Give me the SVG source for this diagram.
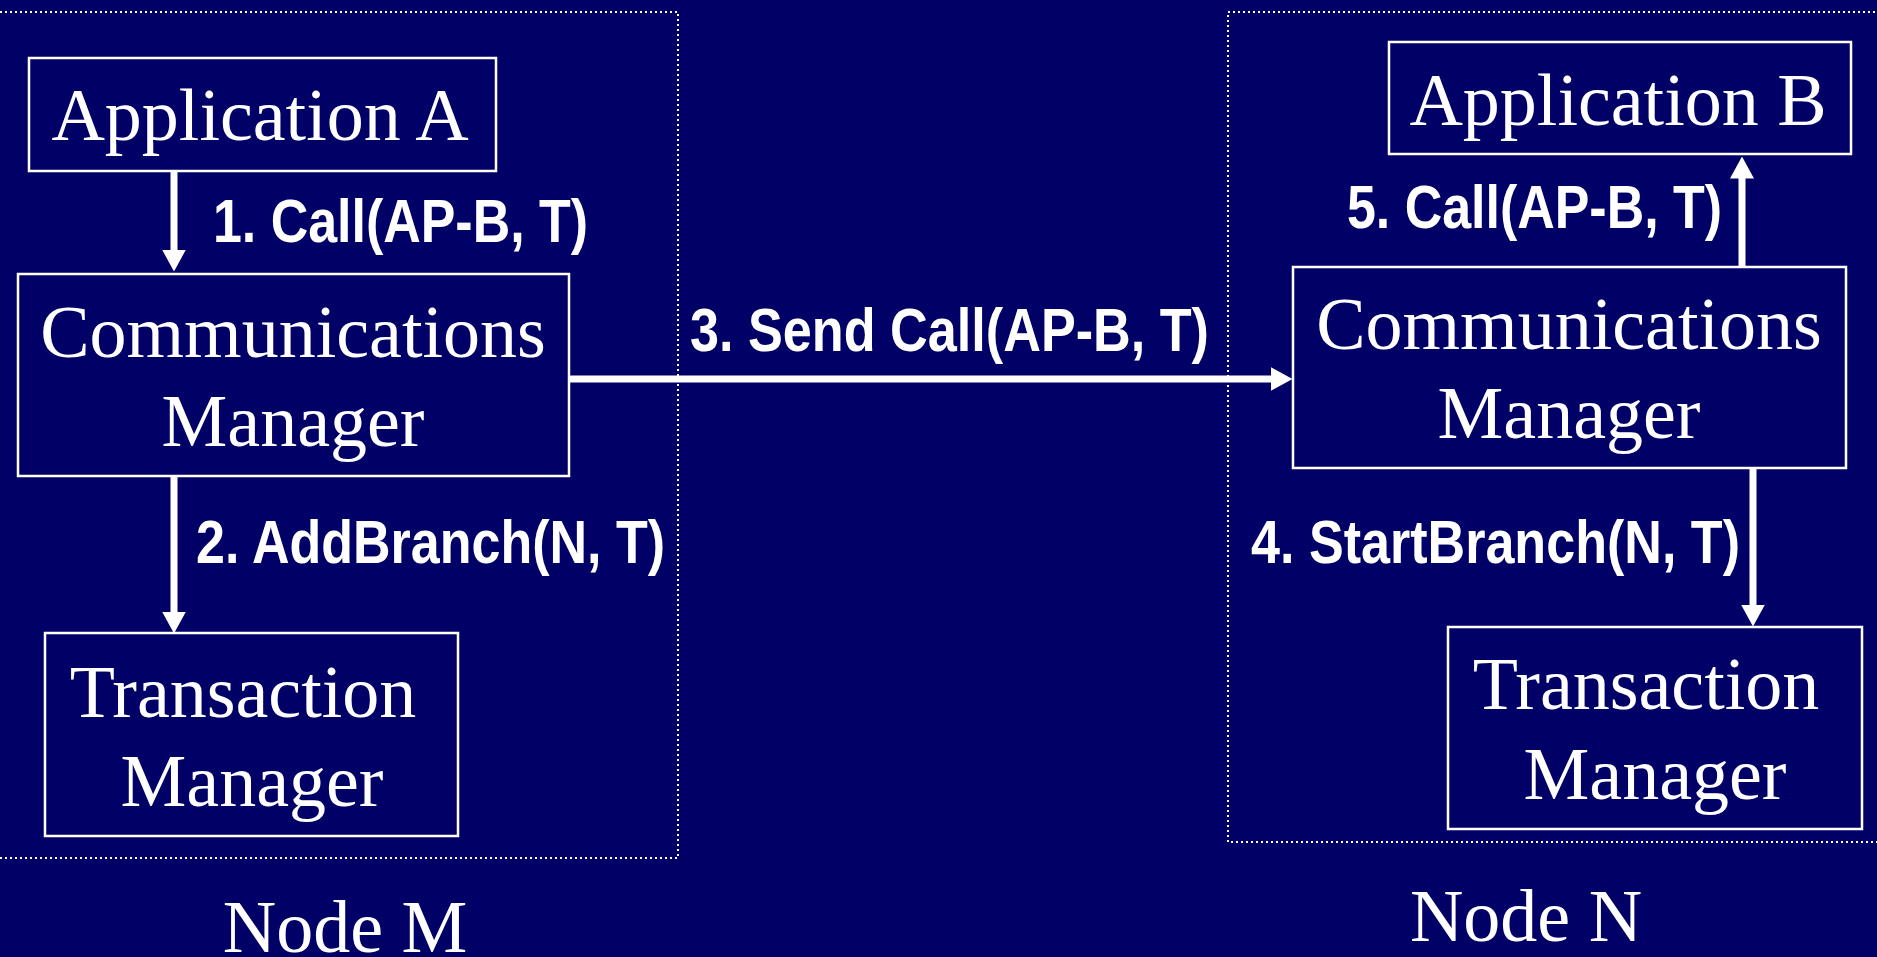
<svg xmlns="http://www.w3.org/2000/svg" width="1877" height="957" viewBox="0 0 1877 957">
  <style>
    .box { fill: none; stroke: #ffffff; stroke-width: 2.5; }
    .frame { fill: none; stroke: #ffffff; stroke-width: 2; stroke-dasharray: 2 3; }
    .name { font-family: "Liberation Serif", "Times New Roman", serif; font-size: 74px; fill: #ffffff; text-anchor: middle; }
    .msg { font-family: "Liberation Sans", Arial, sans-serif; font-weight: bold; font-size: 62px; fill: #ffffff; }
    .link { stroke: #ffffff; stroke-width: 7; fill: none; marker-end: url(#head); }
  </style>
  <defs>
    <marker id="head" markerUnits="userSpaceOnUse" markerWidth="22" markerHeight="24" viewBox="0 0 22 24" refX="0.5" refY="12" orient="auto">
      <path d="M0,0 L22,12 L0,24 z" fill="#ffffff"/>
    </marker>
  </defs>

  <rect width="1877" height="957" fill="#000066"/>

  <!-- node boundaries -->
  <g id="node-m">
    <rect class="frame" x="-10" y="12" width="688" height="846"/>
    <text class="name" x="345" y="952">Node M</text>
  </g>
  <g id="node-n">
    <rect class="frame" x="1228" y="12" width="680" height="830"/>
    <text class="name" x="1526" y="941">Node N</text>
  </g>

  <!-- Node M components -->
  <g id="app-a">
    <rect class="box" x="29" y="58" width="467" height="113"/>
    <text class="name" x="260" y="140">Application A</text>
  </g>
  <g id="comm-m">
    <rect class="box" x="18" y="274" width="551" height="202"/>
    <text class="name" x="293" y="357">Communications</text>
    <text class="name" x="293" y="446">Manager</text>
  </g>
  <g id="tm-m">
    <rect class="box" x="45" y="633" width="413" height="203"/>
    <text class="name" x="243" y="717">Transaction</text>
    <text class="name" x="252" y="806">Manager</text>
  </g>

  <!-- Node N components -->
  <g id="app-b">
    <rect class="box" x="1389" y="42" width="462" height="112"/>
    <text class="name" x="1618" y="125">Application B</text>
  </g>
  <g id="comm-n">
    <rect class="box" x="1293" y="267" width="553" height="201"/>
    <text class="name" x="1569" y="349">Communications</text>
    <text class="name" x="1569" y="438">Manager</text>
  </g>
  <g id="tm-n">
    <rect class="box" x="1448" y="627" width="414" height="202"/>
    <text class="name" x="1646" y="709">Transaction</text>
    <text class="name" x="1655" y="799">Manager</text>
  </g>

  <!-- calls between components -->
  <g id="connectors">
    <line class="link" x1="174" y1="171" x2="174" y2="250"/>
    <text class="msg" x="213" y="242" textLength="375" lengthAdjust="spacingAndGlyphs">1. Call(AP-B, T)</text>

    <line class="link" x1="174" y1="476" x2="174" y2="612"/>
    <text class="msg" x="196" y="563" textLength="469" lengthAdjust="spacingAndGlyphs">2. AddBranch(N, T)</text>

    <line class="link" x1="569" y1="379" x2="1271" y2="379"/>
    <text class="msg" x="690" y="351" textLength="519" lengthAdjust="spacingAndGlyphs">3. Send Call(AP-B, T)</text>

    <line class="link" x1="1753" y1="468" x2="1753" y2="605"/>
    <text class="msg" x="1251" y="563" textLength="489" lengthAdjust="spacingAndGlyphs">4. StartBranch(N, T)</text>

    <line class="link" x1="1742" y1="267" x2="1742" y2="178"/>
    <text class="msg" x="1347" y="228" textLength="375" lengthAdjust="spacingAndGlyphs">5. Call(AP-B, T)</text>
  </g>
</svg>
